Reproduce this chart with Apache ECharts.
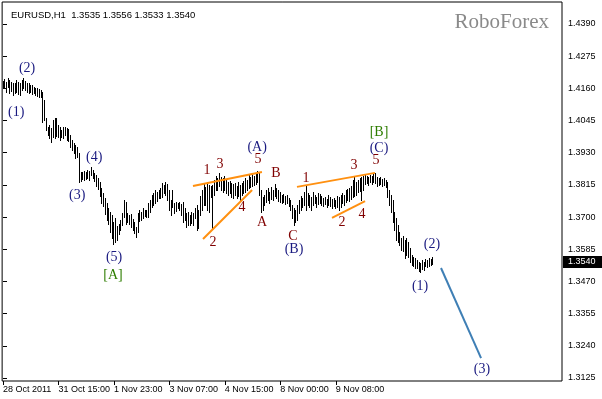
<!DOCTYPE html>
<html><head><meta charset="utf-8">
<script src="https://cdn.jsdelivr.net/npm/echarts@6/dist/echarts.min.js"></script>
<style>html,body{margin:0;padding:0;background:#fff}#c{width:602px;height:399px}</style>
</head><body><div id="c"></div>
<script>
// ---- data ----
const symbolName = 'EURUSD,H1';
const lastOHLC = [1.3535, 1.3556, 1.3533, 1.3540];
const lastPrice = 1.3540;
const timeTicks = [0, 32, 64, 96, 128, 160, 192];
const timeLabels = ['28 Oct 2011', '31 Oct 15:00', '1 Nov 23:00', '3 Nov 07:00', '4 Nov 15:00', '8 Nov 00:00', '9 Nov 08:00'];
const priceTicks = [1.3125, 1.3240, 1.3355, 1.3470, 1.3585, 1.3700, 1.3815, 1.3930, 1.4045, 1.4160, 1.4275, 1.4390];
const high = [
1.4186,1.4193,1.4183,1.4197,1.4190,1.4183,1.4179,1.4179,1.4190,1.4183,
1.4179,1.4190,1.4197,1.4186,1.4179,1.4179,1.4172,1.4172,1.4165,1.4161,
1.4161,1.4158,1.4154,1.4147,1.4118,1.4054,1.4022,1.4029,1.4018,1.4047,
1.4054,1.4054,1.4029,1.4022,1.4011,1.4022,1.4022,1.4018,1.4015,1.3993,
1.3975,1.3965,1.3958,1.3950,1.3929,1.3861,1.3861,1.3865,1.3861,1.3868,
1.3865,1.3879,1.3868,1.3858,1.3851,1.3840,1.3826,1.3804,1.3786,1.3768,
1.3750,1.3733,1.3718,1.3708,1.3683,1.3697,1.3668,1.3675,1.3690,1.3715,
1.3761,1.3754,1.3715,1.3708,1.3711,1.3693,1.3683,1.3665,1.3715,1.3725,
1.3718,1.3733,1.3725,1.3725,1.3750,1.3761,1.3779,1.3786,1.3797,1.3790,
1.3797,1.3804,1.3822,1.3815,1.3826,1.3819,1.3797,1.3761,1.3797,1.3750,
1.3754,1.3750,1.3754,1.3747,1.3754,1.3733,1.3715,1.3718,1.3708,1.3718,
1.3715,1.3733,1.3743,1.3725,1.3776,1.3797,1.3822,1.3808,1.3826,1.3815,
1.3811,1.3815,1.3833,1.3847,1.3840,1.3858,1.3843,1.3840,1.3847,1.3833,
1.3826,1.3829,1.3822,1.3819,1.3822,1.3811,1.3826,1.3815,1.3822,1.3829,
1.3840,1.3833,1.3851,1.3843,1.3854,1.3847,1.3858,1.3865,1.3858,1.3797,
1.3772,1.3779,1.3797,1.3804,1.3790,1.3808,1.3797,1.3819,1.3804,1.3797,
1.3790,1.3779,1.3783,1.3776,1.3779,1.3768,1.3761,1.3743,1.3733,1.3725,
1.3743,1.3761,1.3776,1.3768,1.3790,1.3815,1.3786,1.3779,1.3772,1.3790,
1.3779,1.3772,1.3786,1.3783,1.3776,1.3768,1.3772,1.3765,1.3779,1.3772,
1.3765,1.3768,1.3761,1.3776,1.3772,1.3779,1.3786,1.3779,1.3797,1.3801,
1.3804,1.3811,1.3833,1.3843,1.3826,1.3833,1.3840,1.3843,1.3847,1.3851,
1.3847,1.3843,1.3851,1.3847,1.3854,1.3858,1.3843,1.3840,1.3843,1.3836,
1.3840,1.3833,1.3826,1.3797,1.3779,1.3761,1.3718,1.3697,1.3672,1.3647,
1.3625,1.3633,1.3618,1.3625,1.3611,1.3590,1.3565,1.3558,1.3554,1.3547,
1.3540,1.3536,1.3547,1.3540,1.3551,1.3547,1.3554,1.3551,1.3556];
const low = [
1.4161,1.4165,1.4147,1.4165,1.4143,1.4151,1.4136,1.4143,1.4147,1.4140,
1.4136,1.4154,1.4161,1.4154,1.4147,1.4143,1.4147,1.4140,1.4143,1.4136,
1.4133,1.4129,1.4129,1.4040,1.4047,1.4011,1.3993,1.3982,1.3968,1.3986,
1.3982,1.3990,1.3986,1.3975,1.3986,1.3982,1.3993,1.3975,1.3972,1.3950,
1.3940,1.3929,1.3911,1.3915,1.3826,1.3829,1.3836,1.3833,1.3836,1.3840,
1.3833,1.3851,1.3840,1.3829,1.3811,1.3801,1.3776,1.3750,1.3740,1.3711,
1.3690,1.3675,1.3647,1.3625,1.3604,1.3611,1.3618,1.3640,1.3654,1.3672,
1.3700,1.3675,1.3683,1.3675,1.3665,1.3654,1.3643,1.3629,1.3647,1.3686,
1.3690,1.3697,1.3704,1.3700,1.3700,1.3718,1.3736,1.3743,1.3750,1.3758,
1.3768,1.3768,1.3772,1.3786,1.3779,1.3761,1.3725,1.3708,1.3736,1.3715,
1.3722,1.3733,1.3725,1.3708,1.3683,1.3690,1.3665,1.3672,1.3672,1.3679,
1.3672,1.3697,1.3654,1.3661,1.3708,1.3725,1.3743,1.3743,1.3725,1.3718,
1.3772,1.3658,1.3779,1.3797,1.3797,1.3811,1.3797,1.3790,1.3797,1.3786,
1.3779,1.3786,1.3772,1.3768,1.3779,1.3768,1.3776,1.3761,1.3779,1.3786,
1.3790,1.3797,1.3804,1.3808,1.3811,1.3815,1.3819,1.3826,1.3779,1.3718,
1.3725,1.3743,1.3754,1.3761,1.3750,1.3765,1.3761,1.3776,1.3768,1.3758,
1.3754,1.3750,1.3754,1.3747,1.3750,1.3740,1.3725,1.3697,1.3672,1.3683,
1.3690,1.3715,1.3725,1.3736,1.3743,1.3725,1.3743,1.3736,1.3725,1.3743,
1.3750,1.3736,1.3747,1.3750,1.3743,1.3740,1.3747,1.3736,1.3743,1.3740,
1.3733,1.3740,1.3733,1.3736,1.3725,1.3736,1.3750,1.3743,1.3754,1.3761,
1.3758,1.3765,1.3772,1.3776,1.3779,1.3790,1.3793,1.3761,1.3797,1.3819,
1.3822,1.3815,1.3826,1.3819,1.3826,1.3822,1.3811,1.3815,1.3819,1.3811,
1.3815,1.3808,1.3772,1.3743,1.3718,1.3683,1.3654,1.3618,1.3611,1.3600,
1.3583,1.3579,1.3554,1.3565,1.3558,1.3540,1.3529,1.3526,1.3518,1.3518,
1.3508,1.3504,1.3515,1.3511,1.3526,1.3522,1.3526,1.3529,1.3533];

// wave labels: [text, bar index, price]
const navyLabels = [['(2)',13.9,1.4230],['(1)',7.6,1.4076],['(4)',52.6,1.3915],['(3)',42.8,1.3776],['(5)',64.1,1.3558],
  ['(A)',146.6,1.3950],['(B)',167.9,1.3586],['(C)',216.9,1.3947],['(2)',247.5,1.3604],['(1)',240.6,1.3454],['(3)',276.3,1.3157]];
const greenLabels = [['[A]',63.5,1.3493],['[B]',216.9,1.4004]];
const maroonLabels = [['1',117.7,1.3868],['3',125.2,1.3890],['5',147.1,1.3907],['2',121.2,1.3611],['4',137.9,1.3736],
  ['A',149.4,1.3680],['B',157.5,1.3857],['C',167.3,1.3632],['1',174.8,1.3840],['3',202.5,1.3886],['5',215.2,1.3904],
  ['2',195.6,1.3680],['4',207.1,1.3711]];
// trend lines: [[idx1, price1], [idx2, price2]]
const orangeLines = [[[109.6,1.3811],[149.4,1.3861]], [[115.4,1.3622],[143.7,1.3797]],
  [[169.6,1.3808],[214.6,1.3858]], [[189.8,1.3697],[208.9,1.3757]]];
const forecastLine = [[252.7,1.3518],[275.8,1.3196]];

// ---- chart ----
const chart = echarts.init(document.getElementById('c'), null, {renderer:'canvas'});
const bars = high.map((h,i)=>[i,h,low[i]]);
function labelSeries(list, color){
  return {type:'custom', z:10, silent:true,
    data: list.map(l=>[l[1], l[2], l[0]]),
    renderItem:function(params, api){
      const p = api.coord([api.value(0), api.value(1)]);
      return {type:'text', x:p[0], y:p[1], style:{text:list[params.dataIndex][0], fill:color,
        font:'14px "Liberation Serif"', align:'center', verticalAlign:'middle'}};
    }};
}
const series = [
  {type:'custom', data:bars, z:2, silent:true,
    renderItem:function(params, api){
      const a = api.coord([api.value(0), api.value(1)]);
      const b = api.coord([api.value(0), api.value(2)]);
      const x = Math.floor(a[0]) + 0.5;
      return {type:'line', shape:{x1:x, y1:Math.round(a[1]), x2:x, y2:Math.round(b[1])+1},
        style:{stroke:'#000', lineWidth:1}};
    }},
  labelSeries(navyLabels, '#1a1a80'),
  labelSeries(greenLabels, '#2e7d00'),
  labelSeries(maroonLabels, '#800000')
];
orangeLines.forEach(l=>series.push({type:'line', data:l, symbol:'none', z:5, silent:true,
  lineStyle:{color:'#ff9010', width:2}}));
series.push({type:'line', data:forecastLine, symbol:'none', z:5, silent:true,
  lineStyle:{color:'#3f7fb5', width:2}});

chart.setOption({
  animation:false,
  title:[
    {text: symbolName + '  ' + lastOHLC.map(v=>v.toFixed(4)).join(' '), left:6, top:5,
      textStyle:{fontFamily:'Liberation Sans', fontSize:9.5, fontWeight:'normal', color:'#000'}},
    {text:'RoboForex', right:48, top:7,
      textStyle:{fontFamily:'Liberation Serif', fontSize:21, fontWeight:'normal', color:'#8a8a8a'}}
  ],
  grid:{left:2, right:40, top:2, bottom:18, show:true, borderColor:'#000', borderWidth:1},
  xAxis:{type:'value', min:-0.5, max:322.5, splitLine:{show:false},
    axisLine:{show:false},
    axisTick:{show:true, length:4, customValues:timeTicks, lineStyle:{color:'#000'}},
    axisLabel:{show:true, customValues:timeTicks, align:'left', margin:4,
      formatter:v=>timeLabels[timeTicks.indexOf(Math.round(v))] || '',
      fontFamily:'Liberation Sans', fontSize:9, color:'#000'}},
  yAxis:{type:'value', position:'right', min:1.31143, max:1.44686, scale:true, splitLine:{show:false},
    axisLine:{show:false},
    axisTick:{show:true, length:4, customValues:priceTicks, lineStyle:{color:'#000'}},
    axisLabel:{show:true, customValues:priceTicks, margin:6, formatter:v=>v.toFixed(4),
      fontFamily:'Liberation Sans', fontSize:9, color:'#000'}},
  series:series
});
const py = chart.convertToPixel({yAxisIndex:0}, lastPrice);
const gx = chart.convertToPixel({xAxisIndex:0}, 322.5);
chart.setOption({graphic:[
  {type:'rect', shape:{x:gx+1, y:Math.round(py)-6, width:39, height:12}, style:{fill:'#000'}, z:100},
  {type:'text', x:gx+6, y:Math.round(py), style:{text:lastPrice.toFixed(4), fill:'#fff',
    font:'9px "Liberation Sans"', textVerticalAlign:'middle'}, z:101}
]});
</script></body></html>
